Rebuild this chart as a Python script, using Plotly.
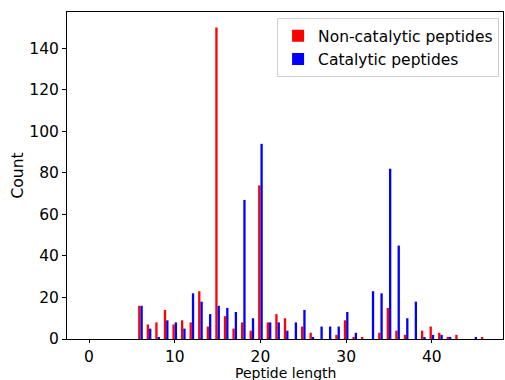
import plotly.graph_objects as go

lengths = list(range(6, 47))
non_catalytic = [16, 7, 8, 14, 7, 9, 8, 23, 6, 150, 11, 5, 8, 4, 74, 8, 12, 10, 0, 6,
                 3, 0, 0, 2, 9, 1, 1, 0, 3, 15, 4, 2, 0, 4, 6, 3, 1, 2, 0, 0, 1]
catalytic = [16, 5, 1, 9, 8, 5, 22, 18, 12, 16, 15, 13, 67, 10, 94, 8, 8, 4, 8, 14,
             1, 6, 6, 6, 13, 3, 0, 23, 22, 82, 45, 10, 18, 1, 2, 2, 1, 0, 0, 1, 0]

fs = 15.5
font = dict(family="DejaVu Sans", size=fs, color="black")
bw = 0.27

fig = go.Figure()
fig.add_trace(go.Bar(x=lengths, y=non_catalytic, name="Non-catalytic peptides",
                     marker=dict(color="#ff0000", line=dict(width=0)),
                     width=bw, offset=-bw))
fig.add_trace(go.Bar(x=lengths, y=catalytic, name="Catalytic peptides",
                     marker=dict(color="#0000ff", line=dict(width=0)),
                     width=bw, offset=0))

fig.update_layout(
    width=505, height=380,
    margin=dict(l=67, r=2, t=12, b=41, autoexpand=False),
    barmode="overlay",
    plot_bgcolor="white", paper_bgcolor="white",
    font=font,
    legend=dict(x=0.991, y=0.981, xanchor="right", yanchor="top",
                bgcolor="white", bordercolor="#d0d0d0", borderwidth=1,
                font=font, itemwidth=30, tracegroupgap=2),
    xaxis=dict(range=[-2.57, 48.3], tickvals=[0, 10, 20, 30, 40],
               showline=True, linecolor="black", linewidth=1, mirror=True,
               ticks="outside", ticklen=3, tickcolor="black",
               showgrid=False, zeroline=False, tickfont=font, automargin=False),
    yaxis=dict(range=[0, 157.5], tickvals=[0, 20, 40, 60, 80, 100, 120, 140],
               showline=True, linecolor="black", linewidth=1, mirror=True,
               ticks="outside", ticklen=4, tickcolor="black",
               showgrid=False, zeroline=False, tickfont=font, automargin=False),
    annotations=[
        dict(text="Peptide length", xref="paper", yref="paper", x=0.5, y=0,
             xanchor="center", yanchor="top", yshift=-24, showarrow=False,
             font=dict(family="DejaVu Sans", size=14, color="black")),
        dict(text="Count", xref="paper", yref="paper", x=0, y=0.5, textangle=-90,
             xanchor="center", yanchor="middle", xshift=-50, showarrow=False, font=font),
    ],
)

fig.write_html("out.html")
